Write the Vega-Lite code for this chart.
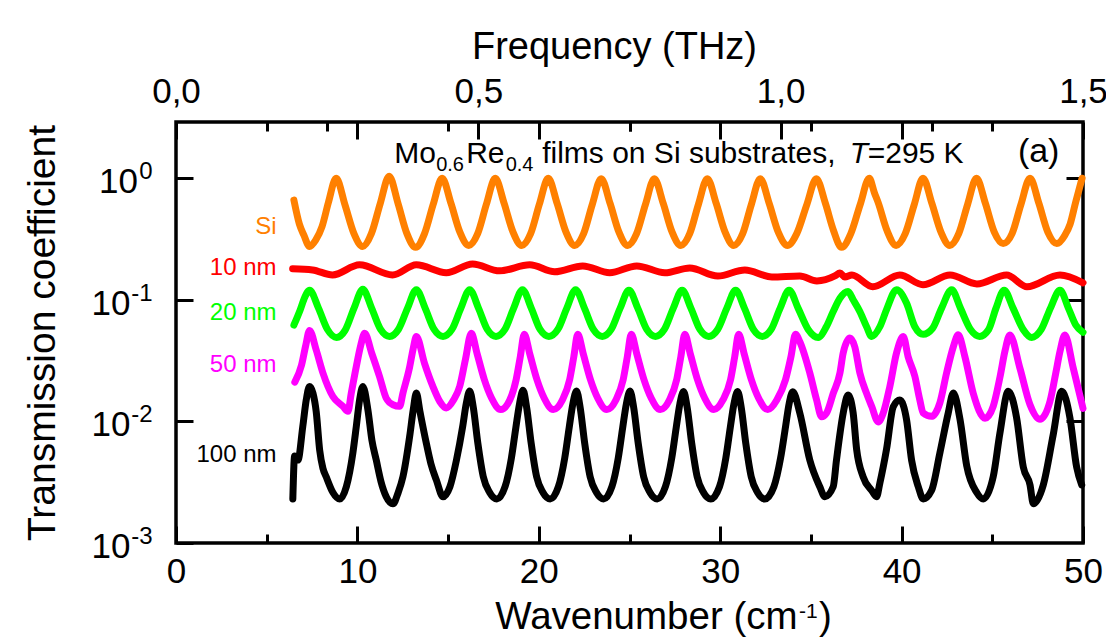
{
"$schema": "https://vega.github.io/schema/vega-lite/v6.json",
"width": 907, "height": 421,
"autosize": {"type": "none"},
"padding": {"left": 176, "top": 122, "right": 23, "bottom": 96},
"background": "white",
"config": {
  "font": "Liberation Sans",
  "view": {"stroke": "black", "strokeWidth": 3.5},
  "axis": {"domain": false, "grid": false, "tickColor": "black", "tickWidth": 3, "labelColor": "black", "titleColor": "black", "titleFontWeight": "normal", "labelFontSize": 35, "titleFontSize": 38, "labelFlush": false, "labelOverlap": false}
},
"datasets": {
"curves": [
{"s":"Si","w":6.50,"t":0.66},{"s":"Si","w":6.80,"t":0.42},{"s":"Si","w":7.05,"t":0.34},{"s":"Si","w":7.36,"t":0.275},{"s":"Si","w":7.70,"t":0.31},{"s":"Si","w":8.05,"t":0.40},{"s":"Si","w":8.40,"t":0.63},{"s":"Si","w":8.83,"t":1.00},{"s":"Si","w":9.32,"t":0.60},{"s":"Si","w":9.81,"t":0.35},{"s":"Si","w":10.29,"t":0.275},{"s":"Si","w":10.77,"t":0.35},{"s":"Si","w":11.26,"t":0.62},{"s":"Si","w":11.75,"t":1.04},{"s":"Si","w":12.24,"t":0.62},{"s":"Si","w":12.73,"t":0.35},{"s":"Si","w":13.21,"t":0.27},{"s":"Si","w":13.70,"t":0.35},{"s":"Si","w":14.18,"t":0.61},{"s":"Si","w":14.67,"t":1.00},{"s":"Si","w":15.16,"t":0.62},{"s":"Si","w":15.65,"t":0.36},{"s":"Si","w":16.14,"t":0.28},{"s":"Si","w":16.63,"t":0.35},{"s":"Si","w":17.11,"t":0.61},{"s":"Si","w":17.60,"t":1.00},{"s":"Si","w":18.09,"t":0.62},{"s":"Si","w":18.58,"t":0.36},{"s":"Si","w":19.06,"t":0.28},{"s":"Si","w":19.55,"t":0.35},{"s":"Si","w":20.03,"t":0.61},{"s":"Si","w":20.52,"t":1.00},{"s":"Si","w":21.01,"t":0.62},{"s":"Si","w":21.50,"t":0.36},{"s":"Si","w":21.98,"t":0.28},{"s":"Si","w":22.47,"t":0.35},{"s":"Si","w":22.95,"t":0.61},{"s":"Si","w":23.44,"t":0.99},{"s":"Si","w":23.93,"t":0.62},{"s":"Si","w":24.42,"t":0.36},{"s":"Si","w":24.90,"t":0.28},{"s":"Si","w":25.39,"t":0.35},{"s":"Si","w":25.88,"t":0.61},{"s":"Si","w":26.37,"t":0.99},{"s":"Si","w":26.86,"t":0.62},{"s":"Si","w":27.35,"t":0.36},{"s":"Si","w":27.83,"t":0.28},{"s":"Si","w":28.32,"t":0.35},{"s":"Si","w":28.80,"t":0.61},{"s":"Si","w":29.29,"t":0.99},{"s":"Si","w":29.78,"t":0.62},{"s":"Si","w":30.27,"t":0.36},{"s":"Si","w":30.75,"t":0.28},{"s":"Si","w":31.24,"t":0.35},{"s":"Si","w":31.72,"t":0.61},{"s":"Si","w":32.21,"t":0.99},{"s":"Si","w":32.70,"t":0.62},{"s":"Si","w":33.20,"t":0.36},{"s":"Si","w":33.72,"t":0.28},{"s":"Si","w":34.22,"t":0.35},{"s":"Si","w":34.78,"t":0.61},{"s":"Si","w":35.30,"t":0.99},{"s":"Si","w":35.80,"t":0.62},{"s":"Si","w":36.25,"t":0.37},{"s":"Si","w":36.69,"t":0.27},{"s":"Si","w":37.20,"t":0.35},{"s":"Si","w":37.72,"t":0.61},{"s":"Si","w":38.22,"t":1.00},{"s":"Si","w":38.50,"t":0.76},{"s":"Si","w":38.71,"t":0.63},{"s":"Si","w":39.20,"t":0.37},{"s":"Si","w":39.70,"t":0.28},{"s":"Si","w":40.20,"t":0.35},{"s":"Si","w":40.70,"t":0.61},{"s":"Si","w":41.18,"t":1.00},{"s":"Si","w":41.67,"t":0.62},{"s":"Si","w":42.17,"t":0.36},{"s":"Si","w":42.66,"t":0.28},{"s":"Si","w":43.15,"t":0.35},{"s":"Si","w":43.64,"t":0.61},{"s":"Si","w":44.13,"t":1.00},{"s":"Si","w":44.62,"t":0.62},{"s":"Si","w":45.11,"t":0.36},{"s":"Si","w":45.60,"t":0.29},{"s":"Si","w":46.09,"t":0.35},{"s":"Si","w":46.58,"t":0.61},{"s":"Si","w":47.08,"t":1.00},{"s":"Si","w":47.57,"t":0.62},{"s":"Si","w":48.06,"t":0.36},{"s":"Si","w":48.55,"t":0.29},{"s":"Si","w":49.00,"t":0.34},{"s":"Si","w":49.29,"t":0.42},{"s":"Si","w":49.60,"t":0.64},{"s":"Si","w":49.95,"t":1.00},

{"s":"10 nm","w":6.43,"t":0.180},{"s":"10 nm","w":7.53,"t":0.176},{"s":"10 nm","w":8.63,"t":0.160},{"s":"10 nm","w":10.12,"t":0.194},{"s":"10 nm","w":11.94,"t":0.160},{"s":"10 nm","w":13.25,"t":0.194},{"s":"10 nm","w":14.90,"t":0.167},{"s":"10 nm","w":16.35,"t":0.197},{"s":"10 nm","w":17.84,"t":0.173},{"s":"10 nm","w":19.50,"t":0.194},{"s":"10 nm","w":20.88,"t":0.170},{"s":"10 nm","w":22.42,"t":0.190},{"s":"10 nm","w":23.91,"t":0.167},{"s":"10 nm","w":25.40,"t":0.190},{"s":"10 nm","w":26.95,"t":0.167},{"s":"10 nm","w":28.32,"t":0.183},{"s":"10 nm","w":29.87,"t":0.157},{"s":"10 nm","w":31.36,"t":0.176},{"s":"10 nm","w":32.85,"t":0.154},{"s":"10 nm","w":34.39,"t":0.157},{"s":"10 nm","w":35.33,"t":0.143},{"s":"10 nm","w":36.32,"t":0.157},{"s":"10 nm","w":36.60,"t":0.166},{"s":"10 nm","w":36.87,"t":0.154},{"s":"10 nm","w":37.26,"t":0.160},{"s":"10 nm","w":38.41,"t":0.128},{"s":"10 nm","w":39.90,"t":0.160},{"s":"10 nm","w":41.18,"t":0.133},{"s":"10 nm","w":42.67,"t":0.160},{"s":"10 nm","w":44.15,"t":0.135},{"s":"10 nm","w":45.79,"t":0.160},{"s":"10 nm","w":46.91,"t":0.128},{"s":"10 nm","w":48.73,"t":0.160},{"s":"10 nm","w":50.00,"t":0.138},

{"s":"20 nm","w":6.50,"t":0.062},{"s":"20 nm","w":6.85,"t":0.083},{"s":"20 nm","w":7.10,"t":0.105},{"s":"20 nm","w":7.36,"t":0.120},{"s":"20 nm","w":7.86,"t":0.085},{"s":"20 nm","w":8.35,"t":0.057},{"s":"20 nm","w":8.85,"t":0.049},{"s":"20 nm","w":9.32,"t":0.056},{"s":"20 nm","w":9.81,"t":0.085},{"s":"20 nm","w":10.30,"t":0.122},{"s":"20 nm","w":10.79,"t":0.085},{"s":"20 nm","w":11.28,"t":0.057},{"s":"20 nm","w":11.77,"t":0.050},{"s":"20 nm","w":12.26,"t":0.057},{"s":"20 nm","w":12.76,"t":0.085},{"s":"20 nm","w":13.25,"t":0.121},{"s":"20 nm","w":13.74,"t":0.085},{"s":"20 nm","w":14.23,"t":0.057},{"s":"20 nm","w":14.72,"t":0.050},{"s":"20 nm","w":15.21,"t":0.057},{"s":"20 nm","w":15.70,"t":0.085},{"s":"20 nm","w":16.19,"t":0.121},{"s":"20 nm","w":16.68,"t":0.085},{"s":"20 nm","w":17.16,"t":0.057},{"s":"20 nm","w":17.64,"t":0.050},{"s":"20 nm","w":18.13,"t":0.057},{"s":"20 nm","w":18.61,"t":0.085},{"s":"20 nm","w":19.10,"t":0.121},{"s":"20 nm","w":19.59,"t":0.085},{"s":"20 nm","w":20.07,"t":0.057},{"s":"20 nm","w":20.56,"t":0.050},{"s":"20 nm","w":21.05,"t":0.057},{"s":"20 nm","w":21.54,"t":0.085},{"s":"20 nm","w":22.03,"t":0.121},{"s":"20 nm","w":22.52,"t":0.085},{"s":"20 nm","w":23.01,"t":0.057},{"s":"20 nm","w":23.50,"t":0.050},{"s":"20 nm","w":23.99,"t":0.057},{"s":"20 nm","w":24.48,"t":0.085},{"s":"20 nm","w":24.97,"t":0.120},{"s":"20 nm","w":25.46,"t":0.085},{"s":"20 nm","w":25.95,"t":0.057},{"s":"20 nm","w":26.43,"t":0.050},{"s":"20 nm","w":26.92,"t":0.057},{"s":"20 nm","w":27.41,"t":0.085},{"s":"20 nm","w":27.90,"t":0.120},{"s":"20 nm","w":28.39,"t":0.085},{"s":"20 nm","w":28.88,"t":0.057},{"s":"20 nm","w":29.37,"t":0.050},{"s":"20 nm","w":29.86,"t":0.057},{"s":"20 nm","w":30.36,"t":0.085},{"s":"20 nm","w":30.85,"t":0.120},{"s":"20 nm","w":31.34,"t":0.085},{"s":"20 nm","w":31.83,"t":0.057},{"s":"20 nm","w":32.32,"t":0.050},{"s":"20 nm","w":32.81,"t":0.057},{"s":"20 nm","w":33.30,"t":0.085},{"s":"20 nm","w":33.80,"t":0.120},{"s":"20 nm","w":34.30,"t":0.085},{"s":"20 nm","w":34.85,"t":0.057},{"s":"20 nm","w":35.40,"t":0.049},{"s":"20 nm","w":35.85,"t":0.060},{"s":"20 nm","w":36.23,"t":0.080},{"s":"20 nm","w":36.60,"t":0.103},{"s":"20 nm","w":37.05,"t":0.117},{"s":"20 nm","w":37.33,"t":0.100},{"s":"20 nm","w":37.70,"t":0.080},{"s":"20 nm","w":38.07,"t":0.060},{"s":"20 nm","w":38.35,"t":0.050},{"s":"20 nm","w":38.80,"t":0.060},{"s":"20 nm","w":39.17,"t":0.083},{"s":"20 nm","w":39.72,"t":0.121},{"s":"20 nm","w":40.27,"t":0.094},{"s":"20 nm","w":40.73,"t":0.060},{"s":"20 nm","w":41.19,"t":0.052},{"s":"20 nm","w":41.70,"t":0.058},{"s":"20 nm","w":42.20,"t":0.085},{"s":"20 nm","w":42.76,"t":0.121},{"s":"20 nm","w":43.25,"t":0.085},{"s":"20 nm","w":43.80,"t":0.057},{"s":"20 nm","w":44.30,"t":0.050},{"s":"20 nm","w":44.80,"t":0.057},{"s":"20 nm","w":45.20,"t":0.085},{"s":"20 nm","w":45.65,"t":0.120},{"s":"20 nm","w":46.15,"t":0.085},{"s":"20 nm","w":46.70,"t":0.057},{"s":"20 nm","w":47.17,"t":0.049},{"s":"20 nm","w":47.70,"t":0.057},{"s":"20 nm","w":48.20,"t":0.085},{"s":"20 nm","w":48.73,"t":0.120},{"s":"20 nm","w":49.20,"t":0.085},{"s":"20 nm","w":49.60,"t":0.062},{"s":"20 nm","w":50.00,"t":0.054},

{"s":"50 nm","w":6.55,"t":0.021},{"s":"50 nm","w":6.92,"t":0.029},{"s":"50 nm","w":7.15,"t":0.042},{"s":"50 nm","w":7.36,"t":0.056},{"s":"50 nm","w":7.73,"t":0.0386},{"s":"50 nm","w":8.10,"t":0.025},{"s":"50 nm","w":8.65,"t":0.016},{"s":"50 nm","w":9.20,"t":0.0133},{"s":"50 nm","w":9.48,"t":0.0121},{"s":"50 nm","w":9.66,"t":0.017},{"s":"50 nm","w":9.94,"t":0.0283},{"s":"50 nm","w":10.18,"t":0.042},{"s":"50 nm","w":10.40,"t":0.053},{"s":"50 nm","w":10.80,"t":0.036},{"s":"50 nm","w":11.22,"t":0.0234},{"s":"50 nm","w":11.59,"t":0.0155},{"s":"50 nm","w":11.96,"t":0.0137},{"s":"50 nm","w":12.33,"t":0.0133},{"s":"50 nm","w":12.51,"t":0.0171},{"s":"50 nm","w":12.88,"t":0.028},{"s":"50 nm","w":13.08,"t":0.040},{"s":"50 nm","w":13.25,"t":0.050},{"s":"50 nm","w":13.70,"t":0.030},{"s":"50 nm","w":14.16,"t":0.0194},{"s":"50 nm","w":14.55,"t":0.0145},{"s":"50 nm","w":14.90,"t":0.0129},{"s":"50 nm","w":15.30,"t":0.0150},{"s":"50 nm","w":15.64,"t":0.0194},{"s":"50 nm","w":15.95,"t":0.032},{"s":"50 nm","w":16.28,"t":0.053},{"s":"50 nm","w":16.60,"t":0.036},{"s":"50 nm","w":17.00,"t":0.022},{"s":"50 nm","w":17.40,"t":0.0155},{"s":"50 nm","w":17.90,"t":0.0125},{"s":"50 nm","w":18.40,"t":0.015},{"s":"50 nm","w":18.75,"t":0.022},{"s":"50 nm","w":18.98,"t":0.034},{"s":"50 nm","w":19.20,"t":0.052},{"s":"50 nm","w":19.50,"t":0.036},{"s":"50 nm","w":19.90,"t":0.022},{"s":"50 nm","w":20.30,"t":0.0155},{"s":"50 nm","w":20.80,"t":0.0125},{"s":"50 nm","w":21.30,"t":0.015},{"s":"50 nm","w":21.70,"t":0.022},{"s":"50 nm","w":21.93,"t":0.034},{"s":"50 nm","w":22.15,"t":0.052},{"s":"50 nm","w":22.45,"t":0.036},{"s":"50 nm","w":22.85,"t":0.022},{"s":"50 nm","w":23.25,"t":0.0155},{"s":"50 nm","w":23.75,"t":0.0125},{"s":"50 nm","w":24.25,"t":0.015},{"s":"50 nm","w":24.65,"t":0.022},{"s":"50 nm","w":24.88,"t":0.034},{"s":"50 nm","w":25.10,"t":0.052},{"s":"50 nm","w":25.40,"t":0.036},{"s":"50 nm","w":25.80,"t":0.022},{"s":"50 nm","w":26.20,"t":0.0155},{"s":"50 nm","w":26.70,"t":0.0125},{"s":"50 nm","w":27.20,"t":0.015},{"s":"50 nm","w":27.60,"t":0.022},{"s":"50 nm","w":27.83,"t":0.034},{"s":"50 nm","w":28.05,"t":0.052},{"s":"50 nm","w":28.35,"t":0.036},{"s":"50 nm","w":28.75,"t":0.022},{"s":"50 nm","w":29.15,"t":0.0155},{"s":"50 nm","w":29.65,"t":0.0125},{"s":"50 nm","w":30.15,"t":0.015},{"s":"50 nm","w":30.57,"t":0.022},{"s":"50 nm","w":30.80,"t":0.034},{"s":"50 nm","w":31.02,"t":0.052},{"s":"50 nm","w":31.32,"t":0.036},{"s":"50 nm","w":31.72,"t":0.022},{"s":"50 nm","w":32.12,"t":0.0155},{"s":"50 nm","w":32.62,"t":0.0125},{"s":"50 nm","w":33.12,"t":0.015},{"s":"50 nm","w":33.60,"t":0.022},{"s":"50 nm","w":33.90,"t":0.034},{"s":"50 nm","w":34.15,"t":0.052},{"s":"50 nm","w":34.39,"t":0.0452},{"s":"50 nm","w":34.94,"t":0.025},{"s":"50 nm","w":35.31,"t":0.0151},{"s":"50 nm","w":35.59,"t":0.0109},{"s":"50 nm","w":35.86,"t":0.0117},{"s":"50 nm","w":36.23,"t":0.017},{"s":"50 nm","w":36.60,"t":0.025},{"s":"50 nm","w":36.78,"t":0.0365},{"s":"50 nm","w":37.15,"t":0.0484},{"s":"50 nm","w":37.42,"t":0.041},{"s":"50 nm","w":37.70,"t":0.025},{"s":"50 nm","w":38.07,"t":0.017},{"s":"50 nm","w":38.35,"t":0.0133},{"s":"50 nm","w":38.71,"t":0.0099},{"s":"50 nm","w":38.98,"t":0.0116},{"s":"50 nm","w":39.35,"t":0.0193},{"s":"50 nm","w":39.72,"t":0.0365},{"s":"50 nm","w":40.09,"t":0.0498},{"s":"50 nm","w":40.36,"t":0.034},{"s":"50 nm","w":40.73,"t":0.0235},{"s":"50 nm","w":41.00,"t":0.0151},{"s":"50 nm","w":41.19,"t":0.0117},{"s":"50 nm","w":41.65,"t":0.011},{"s":"50 nm","w":42.11,"t":0.0142},{"s":"50 nm","w":42.48,"t":0.025},{"s":"50 nm","w":42.85,"t":0.041},{"s":"50 nm","w":43.12,"t":0.0515},{"s":"50 nm","w":43.49,"t":0.034},{"s":"50 nm","w":43.95,"t":0.017},{"s":"50 nm","w":44.60,"t":0.0106},{"s":"50 nm","w":45.05,"t":0.0133},{"s":"50 nm","w":45.42,"t":0.023},{"s":"50 nm","w":45.70,"t":0.038},{"s":"50 nm","w":45.97,"t":0.0514},{"s":"50 nm","w":46.52,"t":0.0275},{"s":"50 nm","w":47.08,"t":0.0137},{"s":"50 nm","w":47.63,"t":0.0104},{"s":"50 nm","w":48.18,"t":0.0146},{"s":"50 nm","w":48.50,"t":0.025},{"s":"50 nm","w":48.73,"t":0.0375},{"s":"50 nm","w":49.00,"t":0.0514},{"s":"50 nm","w":49.46,"t":0.0275},{"s":"50 nm","w":50.00,"t":0.0128},

{"s":"100 nm","w":6.44,"t":0.0023},{"s":"100 nm","w":6.54,"t":0.0052},{"s":"100 nm","w":6.72,"t":0.0048},{"s":"100 nm","w":6.99,"t":0.0091},{"s":"100 nm","w":7.18,"t":0.0150},{"s":"100 nm","w":7.36,"t":0.0194},{"s":"100 nm","w":7.55,"t":0.0171},{"s":"100 nm","w":7.73,"t":0.0120},{"s":"100 nm","w":7.92,"t":0.0058},{"s":"100 nm","w":8.10,"t":0.0041},{"s":"100 nm","w":8.28,"t":0.0035},{"s":"100 nm","w":8.65,"t":0.0026},{"s":"100 nm","w":9.02,"t":0.0023},{"s":"100 nm","w":9.39,"t":0.0029},{"s":"100 nm","w":9.75,"t":0.0055},{"s":"100 nm","w":9.94,"t":0.0091},{"s":"100 nm","w":10.12,"t":0.015},{"s":"100 nm","w":10.30,"t":0.0194},{"s":"100 nm","w":10.58,"t":0.0124},{"s":"100 nm","w":10.80,"t":0.0070},{"s":"100 nm","w":11.04,"t":0.0048},{"s":"100 nm","w":11.30,"t":0.0032},{"s":"100 nm","w":11.59,"t":0.0024},{"s":"100 nm","w":11.96,"t":0.0021},{"s":"100 nm","w":12.25,"t":0.0026},{"s":"100 nm","w":12.51,"t":0.0035},{"s":"100 nm","w":12.88,"t":0.0075},{"s":"100 nm","w":13.08,"t":0.0125},{"s":"100 nm","w":13.25,"t":0.0171},{"s":"100 nm","w":13.45,"t":0.0120},{"s":"100 nm","w":13.80,"t":0.0066},{"s":"100 nm","w":14.05,"t":0.0045},{"s":"100 nm","w":14.35,"t":0.0033},{"s":"100 nm","w":14.72,"t":0.0024},{"s":"100 nm","w":15.10,"t":0.0029},{"s":"100 nm","w":15.46,"t":0.0048},{"s":"100 nm","w":15.80,"t":0.0090},{"s":"100 nm","w":16.00,"t":0.0140},{"s":"100 nm","w":16.19,"t":0.0178},{"s":"100 nm","w":16.39,"t":0.0130},{"s":"100 nm","w":16.64,"t":0.0066},{"s":"100 nm","w":16.94,"t":0.0035},{"s":"100 nm","w":17.29,"t":0.0026},{"s":"100 nm","w":17.69,"t":0.0023},{"s":"100 nm","w":18.14,"t":0.0029},{"s":"100 nm","w":18.49,"t":0.0050},{"s":"100 nm","w":18.74,"t":0.0090},{"s":"100 nm","w":18.94,"t":0.0140},{"s":"100 nm","w":19.13,"t":0.0180},{"s":"100 nm","w":19.33,"t":0.0130},{"s":"100 nm","w":19.58,"t":0.0066},{"s":"100 nm","w":19.88,"t":0.0035},{"s":"100 nm","w":20.23,"t":0.0026},{"s":"100 nm","w":20.63,"t":0.0023},{"s":"100 nm","w":21.08,"t":0.0029},{"s":"100 nm","w":21.43,"t":0.0050},{"s":"100 nm","w":21.68,"t":0.0090},{"s":"100 nm","w":21.88,"t":0.0140},{"s":"100 nm","w":22.08,"t":0.0178},{"s":"100 nm","w":22.28,"t":0.0130},{"s":"100 nm","w":22.53,"t":0.0066},{"s":"100 nm","w":22.83,"t":0.0035},{"s":"100 nm","w":23.18,"t":0.0026},{"s":"100 nm","w":23.58,"t":0.0023},{"s":"100 nm","w":24.03,"t":0.0029},{"s":"100 nm","w":24.38,"t":0.0050},{"s":"100 nm","w":24.63,"t":0.0090},{"s":"100 nm","w":24.83,"t":0.0140},{"s":"100 nm","w":25.03,"t":0.0178},{"s":"100 nm","w":25.23,"t":0.0130},{"s":"100 nm","w":25.48,"t":0.0066},{"s":"100 nm","w":25.78,"t":0.0035},{"s":"100 nm","w":26.13,"t":0.0026},{"s":"100 nm","w":26.53,"t":0.0023},{"s":"100 nm","w":26.98,"t":0.0029},{"s":"100 nm","w":27.33,"t":0.0050},{"s":"100 nm","w":27.58,"t":0.0090},{"s":"100 nm","w":27.78,"t":0.0140},{"s":"100 nm","w":27.98,"t":0.0176},{"s":"100 nm","w":28.18,"t":0.0130},{"s":"100 nm","w":28.43,"t":0.0066},{"s":"100 nm","w":28.73,"t":0.0035},{"s":"100 nm","w":29.08,"t":0.0026},{"s":"100 nm","w":29.48,"t":0.0023},{"s":"100 nm","w":29.96,"t":0.0029},{"s":"100 nm","w":30.31,"t":0.0050},{"s":"100 nm","w":30.56,"t":0.0090},{"s":"100 nm","w":30.76,"t":0.0140},{"s":"100 nm","w":30.96,"t":0.0176},{"s":"100 nm","w":31.16,"t":0.0130},{"s":"100 nm","w":31.41,"t":0.0066},{"s":"100 nm","w":31.71,"t":0.0035},{"s":"100 nm","w":32.06,"t":0.0026},{"s":"100 nm","w":32.46,"t":0.0023},{"s":"100 nm","w":32.96,"t":0.0029},{"s":"100 nm","w":33.33,"t":0.0050},{"s":"100 nm","w":33.60,"t":0.0090},{"s":"100 nm","w":33.80,"t":0.0140},{"s":"100 nm","w":34.00,"t":0.0175},{"s":"100 nm","w":34.39,"t":0.0117},{"s":"100 nm","w":34.94,"t":0.0048},{"s":"100 nm","w":35.49,"t":0.0029},{"s":"100 nm","w":35.77,"t":0.0024},{"s":"100 nm","w":36.23,"t":0.0029},{"s":"100 nm","w":36.41,"t":0.0048},{"s":"100 nm","w":36.78,"t":0.0117},{"s":"100 nm","w":37.05,"t":0.0165},{"s":"100 nm","w":37.33,"t":0.0117},{"s":"100 nm","w":37.52,"t":0.0059},{"s":"100 nm","w":37.88,"t":0.0035},{"s":"100 nm","w":38.35,"t":0.0027},{"s":"100 nm","w":38.62,"t":0.0024},{"s":"100 nm","w":38.80,"t":0.0031},{"s":"100 nm","w":39.17,"t":0.0059},{"s":"100 nm","w":39.54,"t":0.0132},{"s":"100 nm","w":39.90,"t":0.0150},{"s":"100 nm","w":40.27,"t":0.0104},{"s":"100 nm","w":40.55,"t":0.0048},{"s":"100 nm","w":40.92,"t":0.0029},{"s":"100 nm","w":41.19,"t":0.0023},{"s":"100 nm","w":41.65,"t":0.0027},{"s":"100 nm","w":42.11,"t":0.0055},{"s":"100 nm","w":42.57,"t":0.0117},{"s":"100 nm","w":42.85,"t":0.0171},{"s":"100 nm","w":43.22,"t":0.0104},{"s":"100 nm","w":43.59,"t":0.0043},{"s":"100 nm","w":44.14,"t":0.0026},{"s":"100 nm","w":44.50,"t":0.0023},{"s":"100 nm","w":45.05,"t":0.0035},{"s":"100 nm","w":45.42,"t":0.0080},{"s":"100 nm","w":45.88,"t":0.0177},{"s":"100 nm","w":46.34,"t":0.0107},{"s":"100 nm","w":46.71,"t":0.0042},{"s":"100 nm","w":47.08,"t":0.0030},{"s":"100 nm","w":47.26,"t":0.0021},{"s":"100 nm","w":47.81,"t":0.0030},{"s":"100 nm","w":48.36,"t":0.0078},{"s":"100 nm","w":48.83,"t":0.0177},{"s":"100 nm","w":49.28,"t":0.0107},{"s":"100 nm","w":49.65,"t":0.0042},{"s":"100 nm","w":49.93,"t":0.0030}
],
"labels": [
{"s":"Si","lx":5.54,"ly":0.40},{"s":"10 nm","lx":5.54,"ly":0.183},{"s":"20 nm","lx":5.54,"ly":0.0773},{"s":"50 nm","lx":5.54,"ly":0.0292},{"s":"100 nm","lx":5.54,"ly":0.00531}
]
},
"layer": [
{
"layer": [
{
  "data": {"name": "curves"},
  "mark": {"type": "line", "interpolate": "monotone", "strokeCap": "round", "strokeJoin": "round"},
  "encoding": {
    "x": {"field": "w", "type": "quantitative", "scale": {"domain": [0, 50], "nice": false, "zero": false},
      "axis": {"orient": "bottom", "values": [0,5,10,15,20,25,30,35,40,45,50], "labelExpr": "datum.value % 10 === 0 ? datum.label : ''",
        "tickSize": {"condition": {"test": "datum.value % 10 === 0", "value": -17}, "value": -9},
        "labelPadding": 56, "labelBaseline": "alphabetic", "labelFontSize": 35,
        "title": "Wavenumber (cm\u00a0\u00a0)", "titleFontSize": 38.5, "titleBaseline": "alphabetic", "titleY": 85, "titleX": 487, "titleAlign": "center"}},
    "y": {"field": "t", "type": "quantitative", "scale": {"type": "log", "domain": [0.000999, 2.9], "nice": false},
      "axis": {"orient": "left", "values": [0.001, 0.01, 0.1, 1],
        "labelExpr": "'10'",
        "tickSize": -17, "labelPadding": {"condition": {"test": "datum.value > 0.5", "value": 55.5}, "value": 63}, "labelBaseline": "alphabetic", "labelOffset": 14.5, "labelFontSize": 35, "labelAlign": "right",
        "title": "Transmission coefficient", "titleFontSize": 39, "titleAngle": 270, "titleBaseline": "alphabetic", "titleX": -121.5, "titleY": 210.5, "titleAlign": "center"}},
    "color": {"field": "s", "type": "nominal", "scale": {"domain": ["Si","10 nm","20 nm","50 nm","100 nm"], "range": ["#FF8000","#FF0000","#00FF00","#FF00FF","#000000"]}, "legend": null},
    "strokeWidth": {"field": "s", "type": "ordinal", "scale": {"domain": ["Si","10 nm","20 nm","50 nm","100 nm"], "range": [7,7,7,7,5.5]}, "legend": null},
    "order": {"field": "w", "type": "quantitative"}
  }
},
{
  "data": {"name": "labels"},
  "mark": {"type": "text", "align": "right", "baseline": "middle", "fontSize": 24},
  "encoding": {
    "x": {"field": "lx", "type": "quantitative", "axis": null},
    "y": {"field": "ly", "type": "quantitative", "scale": {"type": "log"}, "axis": null},
    "text": {"field": "s"},
    "color": {"field": "s", "type": "nominal", "legend": null}
  }
},
{"data": {"values": [{}]}, "mark": {"type": "text", "align": "left", "baseline": "alphabetic", "fontSize": 30, "dx": 0.5, "color": "black"},
 "encoding": {"x": {"datum": 12.0, "type": "quantitative", "axis": null}, "y": {"datum": 1.328, "type": "quantitative", "scale": {"type": "log"}, "axis": null}, "text": {"value": "Mo"}}},
{"data": {"values": [{}]}, "mark": {"type": "text", "align": "left", "baseline": "alphabetic", "fontSize": 20, "dx": 42.5, "dy": 8.2, "color": "black"},
 "encoding": {"x": {"datum": 12.0, "type": "quantitative", "axis": null}, "y": {"datum": 1.328, "type": "quantitative", "scale": {"type": "log"}, "axis": null}, "text": {"value": "0.6"}}},
{"data": {"values": [{}]}, "mark": {"type": "text", "align": "left", "baseline": "alphabetic", "fontSize": 30, "dx": 72.5, "color": "black"},
 "encoding": {"x": {"datum": 12.0, "type": "quantitative", "axis": null}, "y": {"datum": 1.328, "type": "quantitative", "scale": {"type": "log"}, "axis": null}, "text": {"value": "Re"}}},
{"data": {"values": [{}]}, "mark": {"type": "text", "align": "left", "baseline": "alphabetic", "fontSize": 20, "dx": 112, "dy": 8.2, "color": "black"},
 "encoding": {"x": {"datum": 12.0, "type": "quantitative", "axis": null}, "y": {"datum": 1.328, "type": "quantitative", "scale": {"type": "log"}, "axis": null}, "text": {"value": "0.4"}}},
{"data": {"values": [{}]}, "mark": {"type": "text", "align": "left", "baseline": "alphabetic", "fontSize": 30, "dx": 148.5, "color": "black"},
 "encoding": {"x": {"datum": 12.0, "type": "quantitative", "axis": null}, "y": {"datum": 1.328, "type": "quantitative", "scale": {"type": "log"}, "axis": null}, "text": {"value": "films on Si substrates,"}}},
{"data": {"values": [{}]}, "mark": {"type": "text", "align": "left", "baseline": "alphabetic", "fontSize": 30, "dx": 456, "fontStyle": "italic", "color": "black"},
 "encoding": {"x": {"datum": 12.0, "type": "quantitative", "axis": null}, "y": {"datum": 1.328, "type": "quantitative", "scale": {"type": "log"}, "axis": null}, "text": {"value": "T"}}},
{"data": {"values": [{}]}, "mark": {"type": "text", "align": "left", "baseline": "alphabetic", "fontSize": 30, "dx": 474, "color": "black"},
 "encoding": {"x": {"datum": 12.0, "type": "quantitative", "axis": null}, "y": {"datum": 1.328, "type": "quantitative", "scale": {"type": "log"}, "axis": null}, "text": {"value": "=295 K"}}},
{"data": {"values": [{}]}, "mark": {"type": "text", "align": "left", "baseline": "alphabetic", "fontSize": 34, "color": "black"},
 "encoding": {"x": {"datum": 46.41, "type": "quantitative", "axis": null}, "y": {"datum": 1.36, "type": "quantitative", "scale": {"type": "log"}, "axis": null}, "text": {"value": "(a)"}}},
{"data": {"values": [{}]}, "mark": {"type": "point", "opacity": 0},
 "encoding": {"x": {"datum": 25, "type": "quantitative",
   "axis": {"orient": "top", "values": [5,10,15,20,25,30,35,40,45], "labels": false, "title": null,
     "tickSize": {"condition": {"test": "datum.value % 10 === 0", "value": -17}, "value": -9}}}}},
{"data": {"values": [{}]}, "mark": {"type": "point", "opacity": 0},
 "encoding": {"x": {"datum": 25, "type": "quantitative",
   "axis": {"orient": "bottom", "values": [25], "labels": false, "ticks": false, "title": "-1",
     "titleFontSize": 21, "titleBaseline": "alphabetic", "titleAlign": "left", "titleX": 622.5, "titleY": 74}}}},
{"data": {"values": [{}]}, "mark": {"type": "point", "opacity": 0},
 "encoding": {"y": {"datum": 0.1, "type": "quantitative", "scale": {"type": "log"},
   "axis": {"orient": "right", "values": [0.01, 0.1, 1], "labels": false, "title": null, "tickSize": -17}}}},
{"data": {"values": [{}]}, "mark": {"type": "point", "opacity": 0},
 "encoding": {"y": {"datum": 0.1, "type": "quantitative", "scale": {"type": "log"},
   "axis": {"orient": "left", "values": [0.001, 0.01, 0.1, 1], "ticks": false, "title": null,
     "labelExpr": "datum.value > 0.5 ? '0' : datum.value > 0.05 ? '-1' : datum.value > 0.005 ? '-2' : '-3'",
     "labelFontSize": 24, "labelAlign": "right", "labelBaseline": "alphabetic", "labelPadding": 24, "labelOffset": 0.5}}}}
],
"resolve": {"axis": {"x": "independent", "y": "independent"}}
},
{
  "data": {"values": [{"f": 0}, {"f": 1.5}]},
  "mark": {"type": "point", "opacity": 0},
  "encoding": {
    "x": {"field": "f", "type": "quantitative", "scale": {"domain": [0, 1.5], "nice": false, "zero": false},
      "axis": {"orient": "top", "values": [0, 0.25, 0.5, 0.75, 1, 1.25, 1.5],
        "labelExpr": "(datum.value * 2) % 1 === 0 ? replace(format(datum.value, '.1f'), '.', ',') : ''",
        "tickSize": {"condition": {"test": "(datum.value * 2) % 1 === 0", "value": -17}, "value": -9},
        "labelPadding": 37, "labelBaseline": "alphabetic", "labelFontSize": 35,
        "title": "Frequency (THz)", "titleFontSize": 38, "titleBaseline": "alphabetic", "titleY": -64, "titleX": 438, "titleAlign": "center"}}
  }
}
],
"resolve": {"scale": {"x": "independent"}, "axis": {"x": "independent", "y": "independent"}}
}
